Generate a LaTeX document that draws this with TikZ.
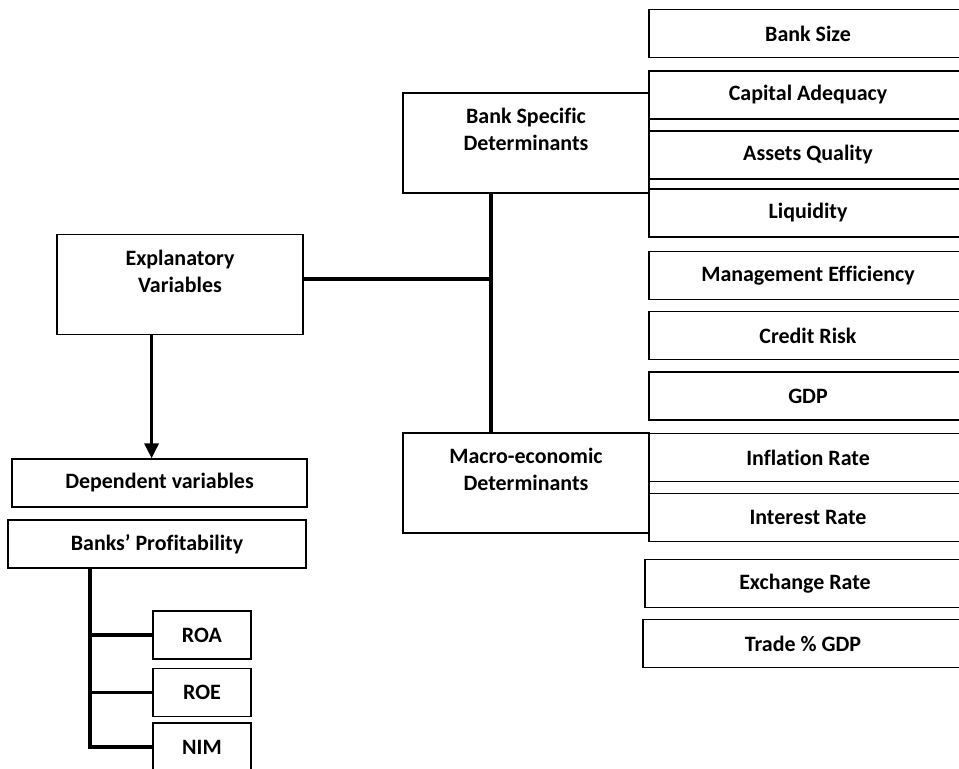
\documentclass[tikz,border=0pt]{standalone}
\usepackage{fontspec}
\setmainfont[Ligatures=NoCommon]{Carlito}
\usetikzlibrary{arrows.meta,positioning}

\begin{document}
\begin{tikzpicture}[x=0.02cm,y=-0.02cm,
    every node/.style={font=\fontsize{12.5}{15.3}\selectfont\bfseries},
    box/.style={draw,line width=0.8pt,minimum height=0.96cm,inner sep=0pt},
    factor/.style={box,minimum width=6.36cm},
    bigbox/.style={draw,line width=0.8pt,minimum width=4.92cm,minimum height=2cm},
    boxtext/.style={align=center,inner sep=0pt},
    conn/.style={line width=1.8pt},
    arr/.style={line width=1.8pt,-{Triangle[length=8.5pt,width=8pt]}}]
  \useasboundingbox (0,0) rectangle (959,768);
  \clip (0,0) rectangle (959,768);

  % explanatory side
  \node[bigbox] (expl) at (180,284.5) {};
  \node[boxtext,below=9pt of expl.north] (expltext) {Explanatory\\Variables};
  \node[bigbox] (bsd) at (526,143) {};
  \node[boxtext,below=9pt of bsd.north] (bsdtext) {Bank Specific\\Determinants};
  \node[bigbox] (macro) at (526,483) {};
  \node[boxtext,below=9pt of macro.north] (macrotext) {Macro-economic\\Determinants};

  % determinants
  \node[factor] (size) at (808,33.5) {Bank Size};
  \node[factor] (capital) at (808,95) {Capital Adequacy};
  \node[factor] (assets) at (808,155) {Assets Quality};
  \node[factor] (liquidity) at (808,213) {Liquidity};
  \node[factor] (mgmt) at (808,275.5) {Management Efficiency};
  \node[factor] (credit) at (808,335.5) {Credit Risk};
  \node[factor] (gdp) at (808,396) {GDP};
  \node[factor] (inflation) at (808,457.5) {Inflation Rate};
  \node[factor] (interest) at (808,517.5) {Interest Rate};
  \node[factor,minimum width=6.4cm] (exchange) at (805,583.5) {Exchange Rate};
  \node[factor,minimum width=6.4cm] (trade) at (803,643.5) {Trade \% GDP};

  % dependent side
  \node[box,minimum width=5.9cm] (dep) at (159.5,483) {Dependent variables};
  \node[box,minimum width=5.96cm] (prof) at (157,544) {Banks’ Profitability};
  \node[box,minimum width=1.96cm] (roa) at (202,635) {ROA};
  \node[box,minimum width=1.96cm] (roe) at (202,692.5) {ROE};
  \node[box,minimum width=1.96cm] (nim) at (202,747) {NIM};

  % connectors
  \coordinate (jn) at (491,279);
  \coordinate (pspine) at (90,568);
  \draw[conn] (expl.east |- jn) -- (jn);
  \draw[conn] (bsd.south -| jn) -- (macro.north -| jn);
  \draw[arr] ([xshift=-4.5]dep.north |- expl.south) -- ([xshift=-4.5]dep.north);
  \draw[conn] (prof.south -| pspine) |- (nim.west);
  \draw[conn] (roa.west -| pspine) -- (roa.west);
  \draw[conn] (roe.west -| pspine) -- (roe.west);
\end{tikzpicture}
\end{document}
